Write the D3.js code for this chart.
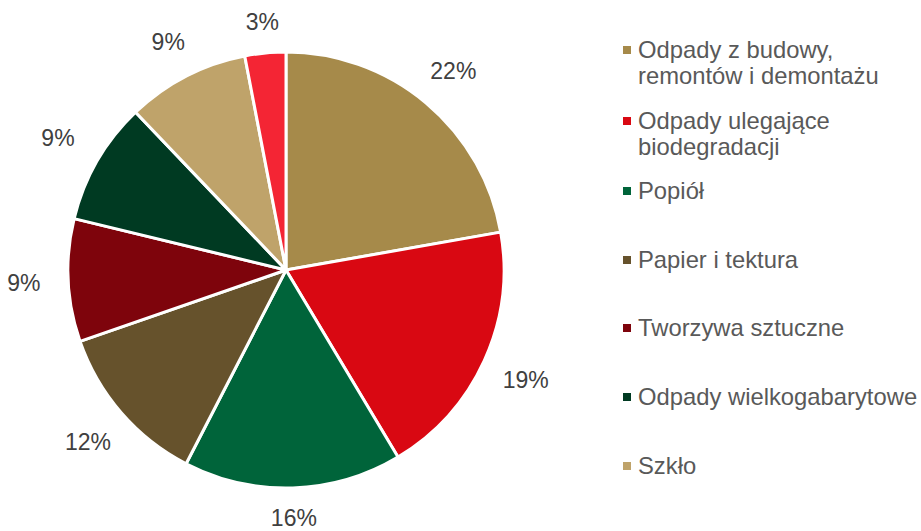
<!DOCTYPE html>
<html><head><meta charset="utf-8">
<script src="https://cdn.jsdelivr.net/npm/d3@7"></script>
<style>body{margin:0;background:#fff}svg{display:block}</style>
</head><body>
<script>
const categories = ["Odpady z budowy, remontów i demontażu","Odpady ulegające biodegradacji","Popiół","Papier i tektura","Tworzywa sztuczne","Odpady wielkogabarytowe","Szkło","Inne"];
const values = [22,19,16,12,9,9,9,3];
const labels = ["22%","19%","16%","12%","9%","9%","9%","3%"];
const colors = ["#A68A4A","#D90812","#00643A","#66522C","#7E040C","#003A22","#BFA36A","#F42534"];
const legendLines = [["Odpady z budowy,","remontów i demontażu"],["Odpady ulegające","biodegradacji"],["Popiół"],["Papier i tektura"],["Tworzywa sztuczne"],["Odpady wielkogabarytowe"],["Szkło"]];
const legendY = [50,121,191,260,328,397,466];

const W=921,H=531, cx=286, cy=270, R=218;
const svg=d3.select("body").append("svg").attr("width",W).attr("height",H);
const g=svg.append("g").attr("transform",`translate(${cx},${cy})`);
const pie=d3.pie().sort(null).value(d=>d)(values);
const arc=d3.arc().innerRadius(0).outerRadius(R);
g.selectAll("path").data(pie).join("path").attr("d",arc)
 .attr("fill",(d,i)=>colors[i]).attr("stroke","#fff").attr("stroke-width",3).attr("stroke-linejoin","round");
function labelPos(d){
  const a=(d.startAngle+d.endAngle)/2, s=Math.sin(a), c=-Math.cos(a);
  const r=R+20+Math.abs(s)*24+Math.abs(c)*9;
  return [s*r,c*r];
}
g.selectAll("text.lbl").data(pie).join("text").attr("class","lbl")
 .attr("transform",d=>`translate(${labelPos(d)})`)
 .attr("text-anchor","middle").attr("dy","0.35em")
 .style("font-family","'Liberation Sans',Arial,sans-serif").style("font-size","23px").attr("fill","#404040")
 .text((d,i)=>labels[i]);

const lg=svg.append("g");
legendLines.forEach((lines,i)=>{
  lg.append("rect").attr("x",623).attr("y",legendY[i]-4).attr("width",8).attr("height",8).attr("fill",colors[i]);
  const t=lg.append("text").attr("y",legendY[i])
   .style("font-family","'Liberation Sans',Arial,sans-serif").style("font-size","23.8px").attr("fill","#595959");
  lines.forEach((l,j)=>t.append("tspan").attr("x",638).attr("dy",j===0?"0.35em":"26px").text(l));
});
</script>
</body></html>
